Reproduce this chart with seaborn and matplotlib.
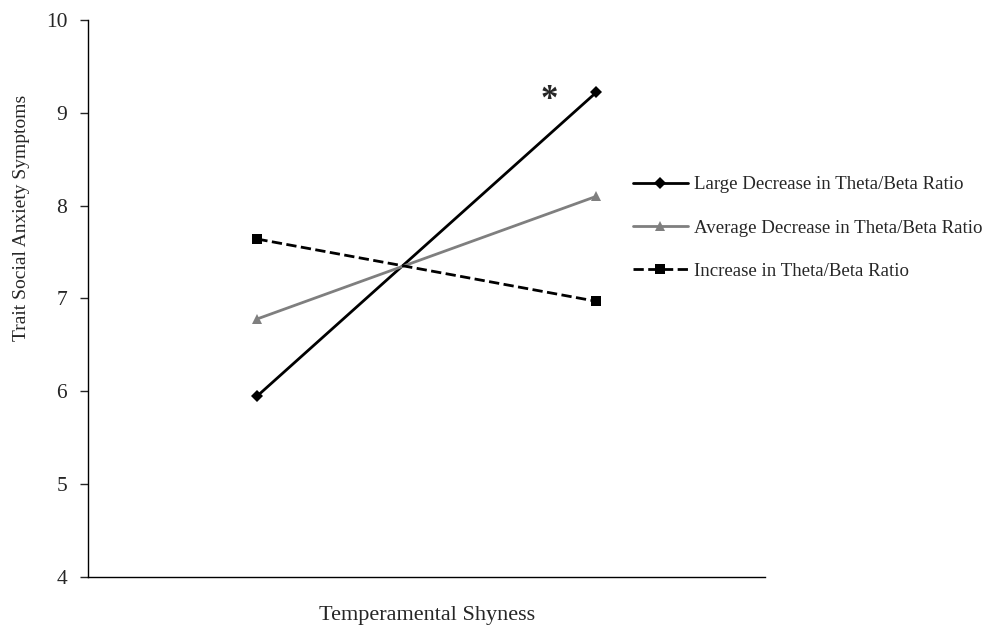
import pandas as pd
import matplotlib
matplotlib.use("Agg")
import matplotlib.pyplot as plt
import seaborn as sns

# values
shyness_levels = [0, 1]  # low / high shyness
large_decrease = [5.95, 9.22]
average_decrease = [6.78, 8.10]
increase = [7.64, 6.97]

series_names = ['Large Decrease in Theta/Beta Ratio',
                'Average Decrease in Theta/Beta Ratio',
                'Increase in Theta/Beta Ratio']
series_values = [large_decrease, average_decrease, increase]

sns.set_style('white')
plt.rcParams['font.family'] = ['Liberation Serif', 'DejaVu Serif']

fig = plt.figure(figsize=(9.89, 6.29), dpi=100)
ax = fig.add_axes([0.089, 0.083, 0.685, 0.885])

styles = [
    dict(color='black', marker='D', markersize=6, linestyle='-'),
    dict(color='#7f7f7f', marker='^', markersize=7, linestyle='-'),
    dict(color='black', marker='s', markersize=7, linestyle='--'),
]
for name, vals, st in zip(series_names, series_values, styles):
    df = pd.DataFrame({'x': shyness_levels, 'y': vals})
    sns.lineplot(data=df, x='x', y='y', ax=ax, label=name, linewidth=2,
                 markeredgewidth=0, **st)

ax.text(0.862, 9.13, '*', fontsize=25, fontweight='bold', ha='center', va='center')

ax.set_xlim(-0.5, 1.5)
ax.set_ylim(4, 10)
ax.set_yticks(range(4, 11))
ax.set_xticks([])
ax.tick_params(axis='y', labelsize=15.5, length=6, width=1, pad=9,
               direction='out', left=True)
ax.set_xlabel('Temperamental Shyness', fontsize=16)
ax.xaxis.set_label_coords(0.5, -0.053)
ax.set_ylabel('Trait Social Anxiety Symptoms', fontsize=14)
ax.yaxis.set_label_coords(-0.086, 0.645)
sns.despine(ax=ax)
for s in ['left', 'bottom']:
    ax.spines[s].set_color('black')
    ax.spines[s].set_linewidth(1)

leg = ax.legend(loc='center left', bbox_to_anchor=(0.64, 0.6375),
                bbox_transform=fig.transFigure, frameon=False, fontsize=13.6,
                handlelength=2.9, handletextpad=0.35, labelspacing=1.38,
                borderaxespad=0, borderpad=0)

fig.savefig('out.png', dpi=100)
